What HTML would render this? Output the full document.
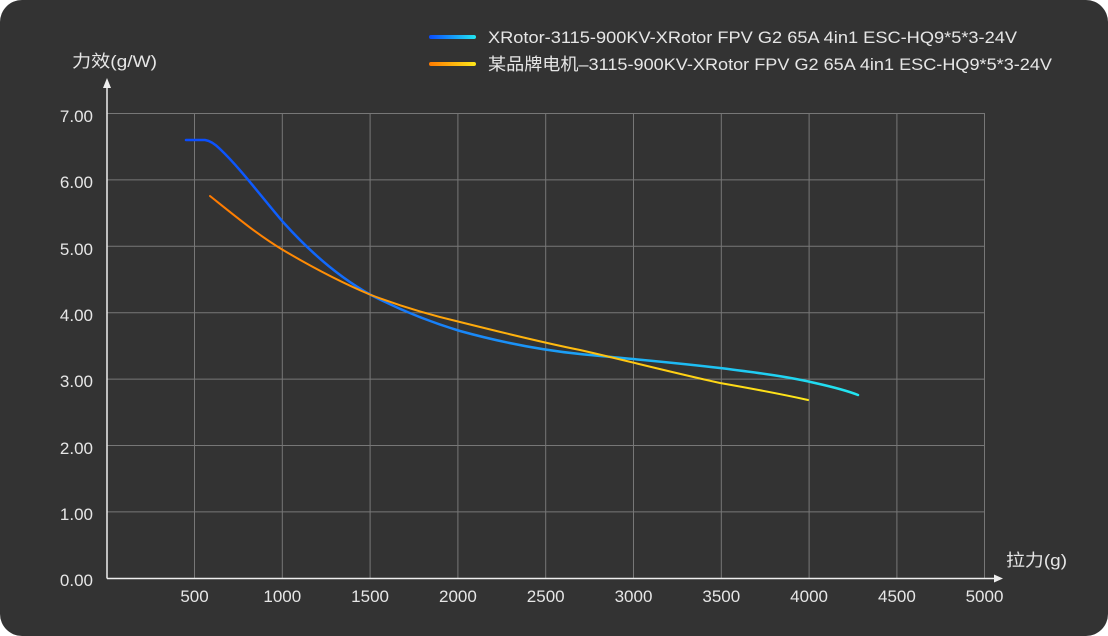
<!DOCTYPE html>
<html><head><meta charset="utf-8"><style>
html,body{margin:0;padding:0;background:#fff;}
.c{position:absolute;left:0;top:0;width:1108px;height:636px;background:#333;border-radius:22px;overflow:hidden;}
text{font-family:"Liberation Sans","Noto Sans CJK SC",sans-serif;fill:#e6e6e6;}
</style></head><body>
<div class="c">
<svg width="1108" height="636" xmlns="http://www.w3.org/2000/svg">
<defs>
<linearGradient id="gb" x1="0" x2="1" y1="0" y2="0"><stop offset="0" stop-color="#0a4cff"/><stop offset="1" stop-color="#22e6f0"/></linearGradient>
<linearGradient id="go" x1="0" x2="1" y1="0" y2="0"><stop offset="0" stop-color="#ff7a00"/><stop offset="1" stop-color="#ffe81a"/></linearGradient>
<linearGradient id="gbl" gradientUnits="userSpaceOnUse" x1="186" x2="858" y1="0" y2="0"><stop offset="0" stop-color="#0a4cff"/><stop offset="0.45" stop-color="#1a8cf8"/><stop offset="1" stop-color="#22e6f0"/></linearGradient>
<linearGradient id="gol" gradientUnits="userSpaceOnUse" x1="210" x2="808" y1="0" y2="0"><stop offset="0" stop-color="#ff7a00"/><stop offset="1" stop-color="#ffe81a"/></linearGradient>
</defs>
<g stroke="#777" stroke-width="1">
<line x1="107" x2="984" y1="113.5" y2="113.5"/><line x1="107" x2="984" y1="179.9" y2="179.9"/><line x1="107" x2="984" y1="246.3" y2="246.3"/><line x1="107" x2="984" y1="312.7" y2="312.7"/><line x1="107" x2="984" y1="379.1" y2="379.1"/><line x1="107" x2="984" y1="445.5" y2="445.5"/><line x1="107" x2="984" y1="511.9" y2="511.9"/>
<line x1="194.5" x2="194.5" y1="113" y2="578"/><line x1="282.3" x2="282.3" y1="113" y2="578"/><line x1="370.1" x2="370.1" y1="113" y2="578"/><line x1="457.9" x2="457.9" y1="113" y2="578"/><line x1="545.7" x2="545.7" y1="113" y2="578"/><line x1="633.5" x2="633.5" y1="113" y2="578"/><line x1="721.3" x2="721.3" y1="113" y2="578"/><line x1="809.1" x2="809.1" y1="113" y2="578"/><line x1="896.9" x2="896.9" y1="113" y2="578"/><line x1="984.5" x2="984.5" y1="113" y2="578"/>
</g>
<g stroke="#eee" stroke-width="1.5" fill="none">
<line x1="107" y1="578.5" x2="998" y2="578.5"/><line x1="107" y1="578.5" x2="107" y2="84"/>
</g>
<polygon points="103,88 111,88 107,78" fill="#eee"/>
<polygon points="994,574.5 994,582.5 1003,578.5" fill="#eee"/>
<g font-size="17" text-anchor="end">
<text x="93" y="122">7.00</text><text x="93" y="188">6.00</text><text x="93" y="255">5.00</text><text x="93" y="321">4.00</text><text x="93" y="387">3.00</text><text x="93" y="454">2.00</text><text x="93" y="520">1.00</text><text x="93" y="586">0.00</text>
</g>
<g font-size="17" text-anchor="middle">
<text x="194.5" y="602">500</text><text x="282.3" y="602">1000</text><text x="370.1" y="602">1500</text><text x="457.9" y="602">2000</text><text x="545.7" y="602">2500</text><text x="633.5" y="602">3000</text><text x="721.3" y="602">3500</text><text x="809.1" y="602">4000</text><text x="896.9" y="602">4500</text><text x="984.5" y="602">5000</text>
</g>
<text x="72" y="67" font-size="17" textLength="85" lengthAdjust="spacingAndGlyphs">力效(g/W)</text>
<text x="1006" y="566" font-size="17" textLength="61" lengthAdjust="spacingAndGlyphs">拉力(g)</text>
<rect x="429" y="35" width="47" height="4" rx="2" fill="url(#gb)"/>
<rect x="429" y="62" width="47" height="4" rx="2" fill="url(#go)"/>
<text x="488" y="43" font-size="17" textLength="529" lengthAdjust="spacingAndGlyphs">XRotor-3115-900KV-XRotor FPV G2 65A 4in1 ESC-HQ9*5*3-24V</text>
<text x="488" y="70" font-size="17" textLength="564" lengthAdjust="spacingAndGlyphs">某品牌电机–3115-900KV-XRotor FPV G2 65A 4in1 ESC-HQ9*5*3-24V</text>
<path d="M186,140 L205,140 Q212,141 220,149 C240,168 260,195 283,222 C310,252 340,278 371,295 C400,310 430,322 460,331 C500,342 540,350 580,354 C620,358 670,362 720,368 C760,373 790,377 815,383 C833,387 848,391 858,395" fill="none" stroke="url(#gbl)" stroke-width="2.5" stroke-linecap="round"/>
<path d="M210,196 C235,216 258,235 283,250 C310,266 340,282 371,295 C400,306 430,315 460,322 C500,332 540,342 580,350 C620,359 670,372 720,383 C760,390 790,396 808,400" fill="none" stroke="url(#gol)" stroke-width="2" stroke-linecap="round"/>
</svg>
</div>
</body></html>
